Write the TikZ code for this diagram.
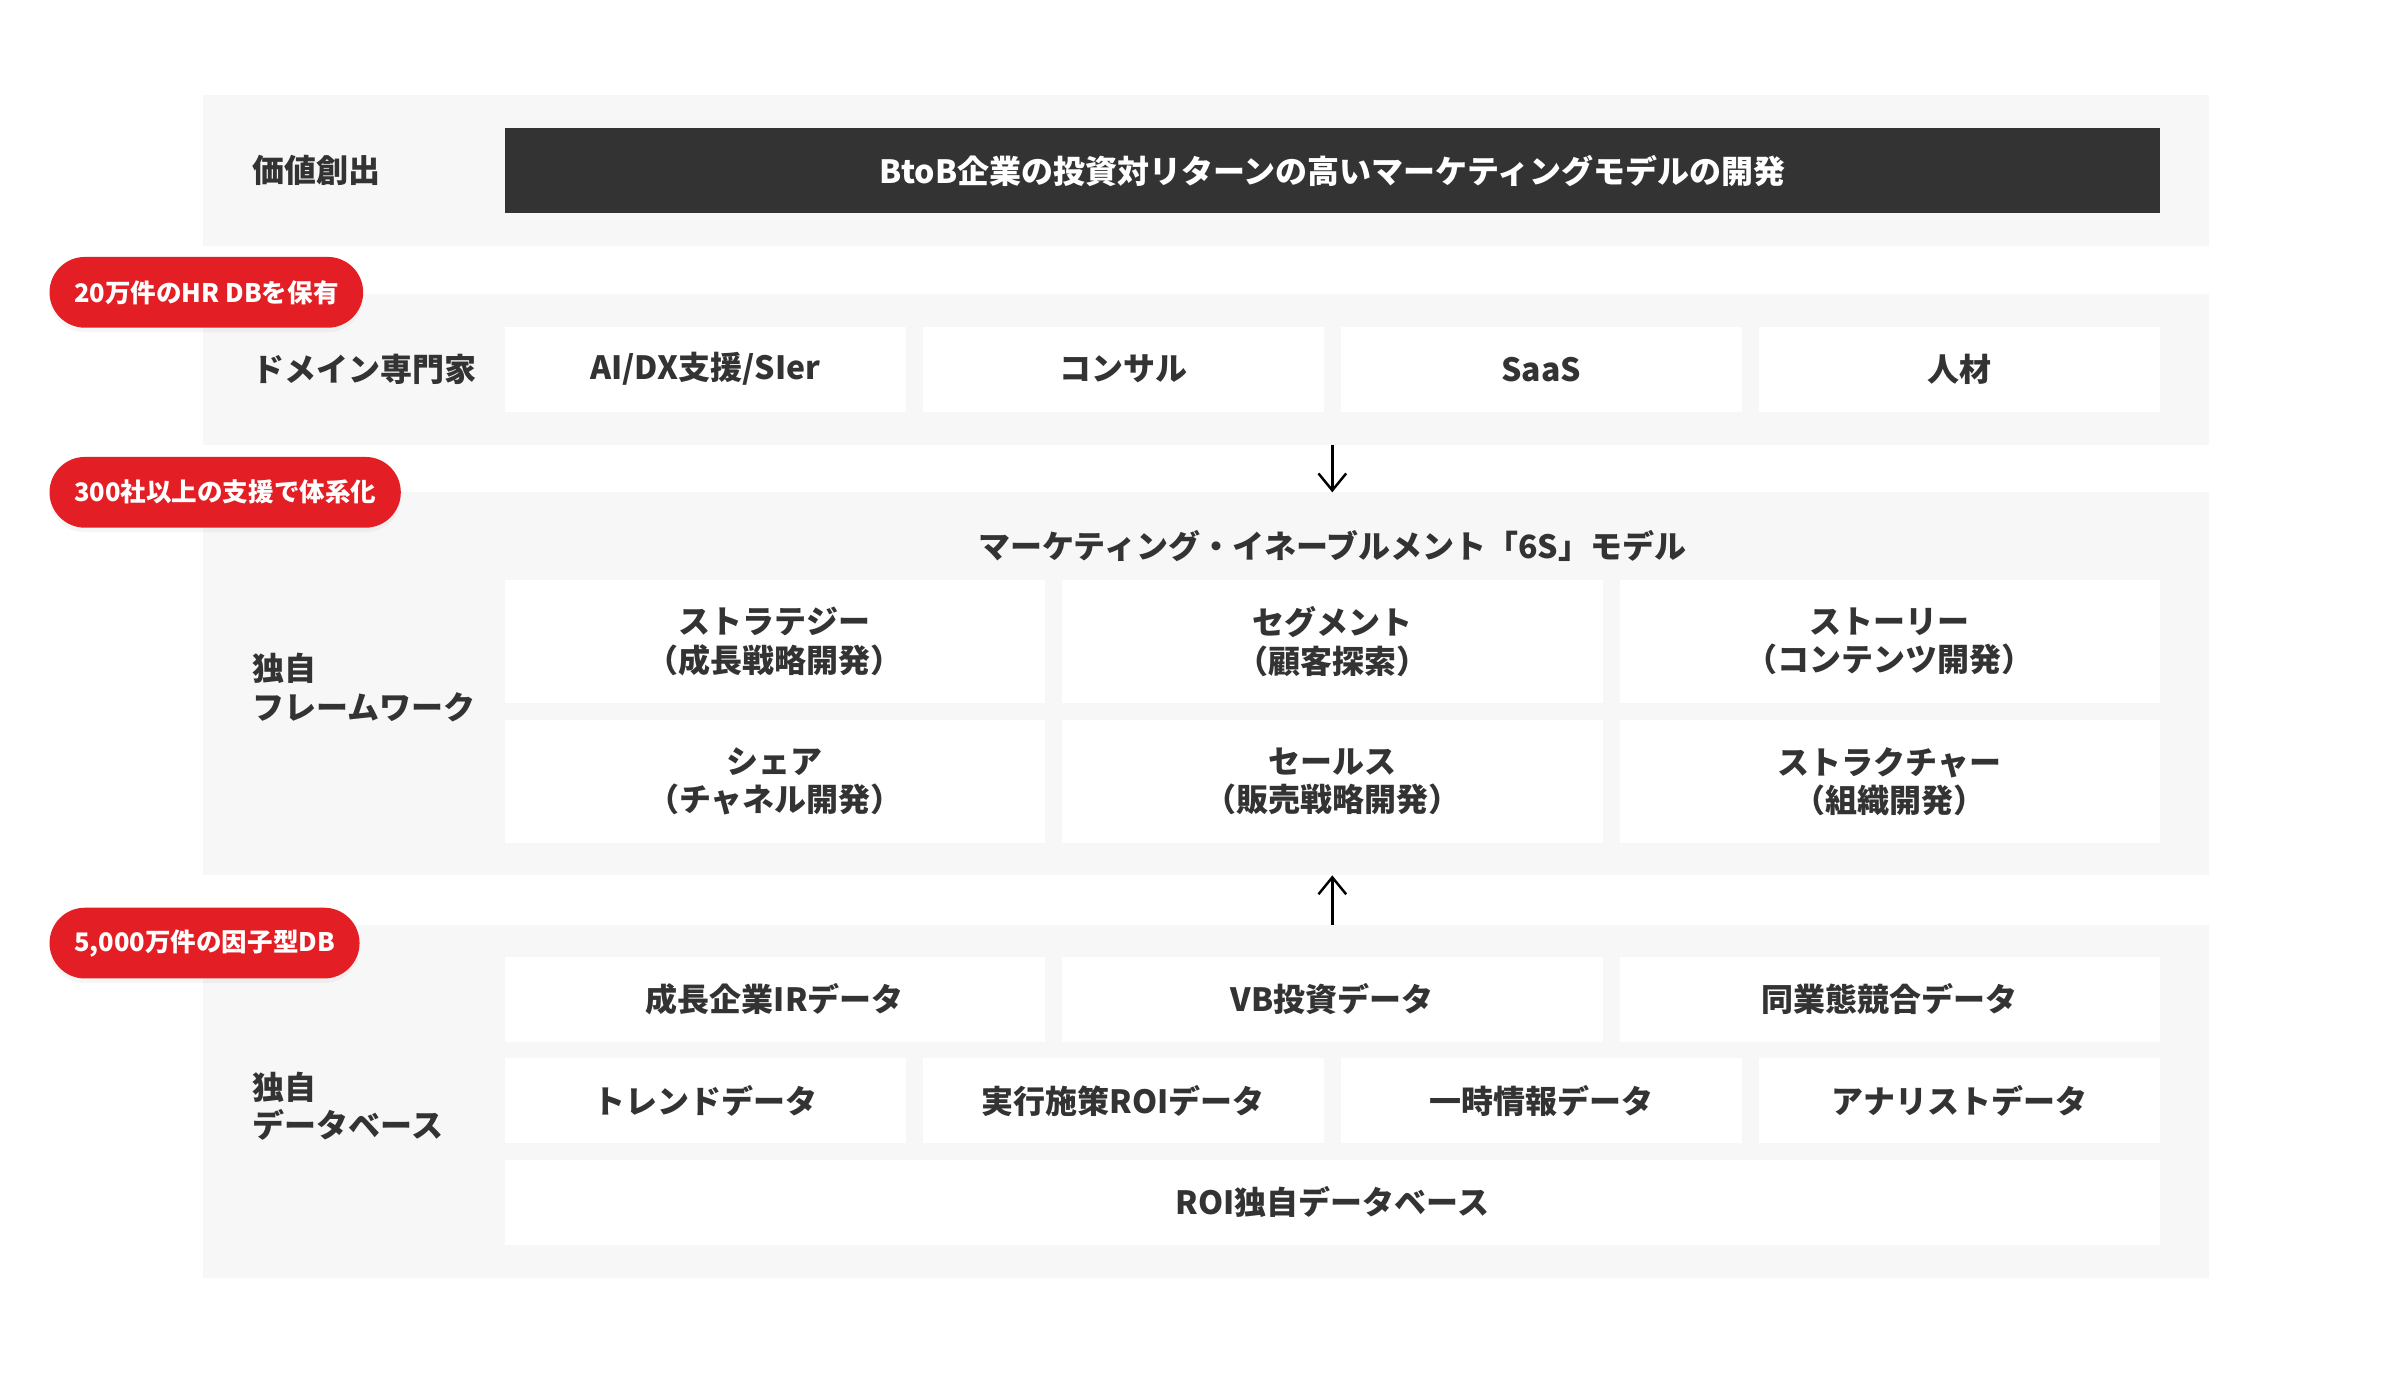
\documentclass[tikz,border=0pt]{standalone}
\usepackage{fontspec}
\newfontfamily\jpfont{Noto Sans CJK JP}
\usetikzlibrary{arrows.meta, shadows}
\definecolor{bandgray}{HTML}{F7F7F7}
\definecolor{textgray}{HTML}{333333}
\definecolor{pillred}{HTML}{E31E24}

\begin{document}
\begin{tikzpicture}[x=1pt, y=-1pt,
        band/.style={fill=bandgray, inner sep=0pt, outer sep=0pt, anchor=north west},
        cell/.style={fill=white, text=textgray, inner sep=0pt, outer sep=0pt, align=center,
                font=\jpfont\bfseries\fontsize{20.8}{25}\selectfont},
        lbl/.style={text=textgray, inner sep=0pt, anchor=west, align=left,
                font=\jpfont\bfseries\fontsize{20.8}{25}\selectfont},
        pill/.style={fill=pillred, text=white, rounded corners=23pt, minimum height=46pt,
                inner xsep=16pt, inner ysep=0pt, anchor=west,
                font=\jpfont\bfseries\fontsize{16.6}{20}\selectfont,
                drop shadow={opacity=0.07, shadow xshift=0pt, shadow yshift=-3pt}},
        arr/.style={-{Straight Barb[length=11pt, width=18pt]}, line width=1.6pt, black}]
        \pgfmathsetmacro{\bl}{132}
        \pgfmathsetmacro{\bw}{1304}
        \pgfmathsetmacro{\cl}{328}
        \pgfmathsetmacro{\cw}{1076}
        \pgfmathsetmacro{\gap}{11}
        \pgfmathsetmacro{\qw}{(\cw-3*\gap)/4}
        \pgfmathsetmacro{\tw}{(\cw-2*\gap)/3}

        \useasboundingbox (0,0) rectangle (1560,892);

        \node[band, minimum width=\bw pt, minimum height=98pt] (b1) at (\bl,62) {};
        \node[band, minimum width=\bw pt, minimum height=98pt] (b2) at (\bl,191) {};
        \node[band, minimum width=\bw pt, minimum height=249pt] (b3) at (\bl,320) {};
        \node[band, minimum width=\bw pt, minimum height=230pt] (b4) at (\bl,601) {};

        \node[lbl] (l1) at (164,111) {価値創出};
        \node[lbl] (l2) at (164,240) {ドメイン専門家};
        \node[lbl] (l3) at (164,447) {独自\\フレームワーク};
        \node[lbl] (l4) at (164,719) {独自\\データベース};

        \node[cell, fill=textgray, text=white, minimum width=\cw pt, minimum height=55pt]
        (goal) at (866,111) {BtoB企業の投資対リターンの高いマーケティングモデルの開発};

        \foreach \t [count=\i] in {{AI/DX支援/SIer}, コンサル, SaaS, 人材} {
                \node[cell, minimum width=\qw pt, minimum height=55pt]
                (d\i) at ({\cl+\qw/2+(\i-1)*(\qw+\gap)}, 240) {\t};
            }

        \node[lbl, anchor=center] (model) at (866,355) {マーケティング・イネーブルメント「6S」モデル};
        \foreach \t [count=\i] in {{ストラテジー\\（成長戦略開発）}, {セグメント\\（顧客探索）},
                {ストーリー\\（コンテンツ開発）}} {
                \node[cell, minimum width=\tw pt, minimum height=80pt]
                (f\i) at ({\cl+\tw/2+(\i-1)*(\tw+\gap)}, 417) {\t};
            }
        \foreach \t [count=\i from 4] in {{シェア\\（チャネル開発）}, {セールス\\（販売戦略開発）},
                {ストラクチャー\\（組織開発）}} {
                \node[cell, minimum width=\tw pt, minimum height=80pt]
                (f\i) at ({\cl+\tw/2+(\i-4)*(\tw+\gap)}, 508) {\t};
            }

        \foreach \t [count=\i] in {成長企業IRデータ, VB投資データ, 同業態競合データ} {
                \node[cell, minimum width=\tw pt, minimum height=55pt]
                (r\i) at ({\cl+\tw/2+(\i-1)*(\tw+\gap)}, 649.5) {\t};
            }
        \foreach \t [count=\i] in {トレンドデータ, 実行施策ROIデータ, 一時情報データ, アナリストデータ} {
                \node[cell, minimum width=\qw pt, minimum height=55pt]
                (t\i) at ({\cl+\qw/2+(\i-1)*(\qw+\gap)}, 715.5) {\t};
            }
        \node[cell, minimum width=\cw pt, minimum height=55pt] (roi) at (866,781.5) {ROI独自データベース};

        \draw[arr] (b2.south -| model) -- (b3.north -| model);
        \draw[arr] (b4.north -| model) -- (b3.south -| model);

        \node[pill] (p1) at (32,190) {20万件のHR DBを保有};
        \node[pill] (p2) at (32,320) {300社以上の支援で体系化};
        \node[pill] (p3) at (32,613) {5,000万件の因子型DB};
    \end{tikzpicture}
\end{document}
